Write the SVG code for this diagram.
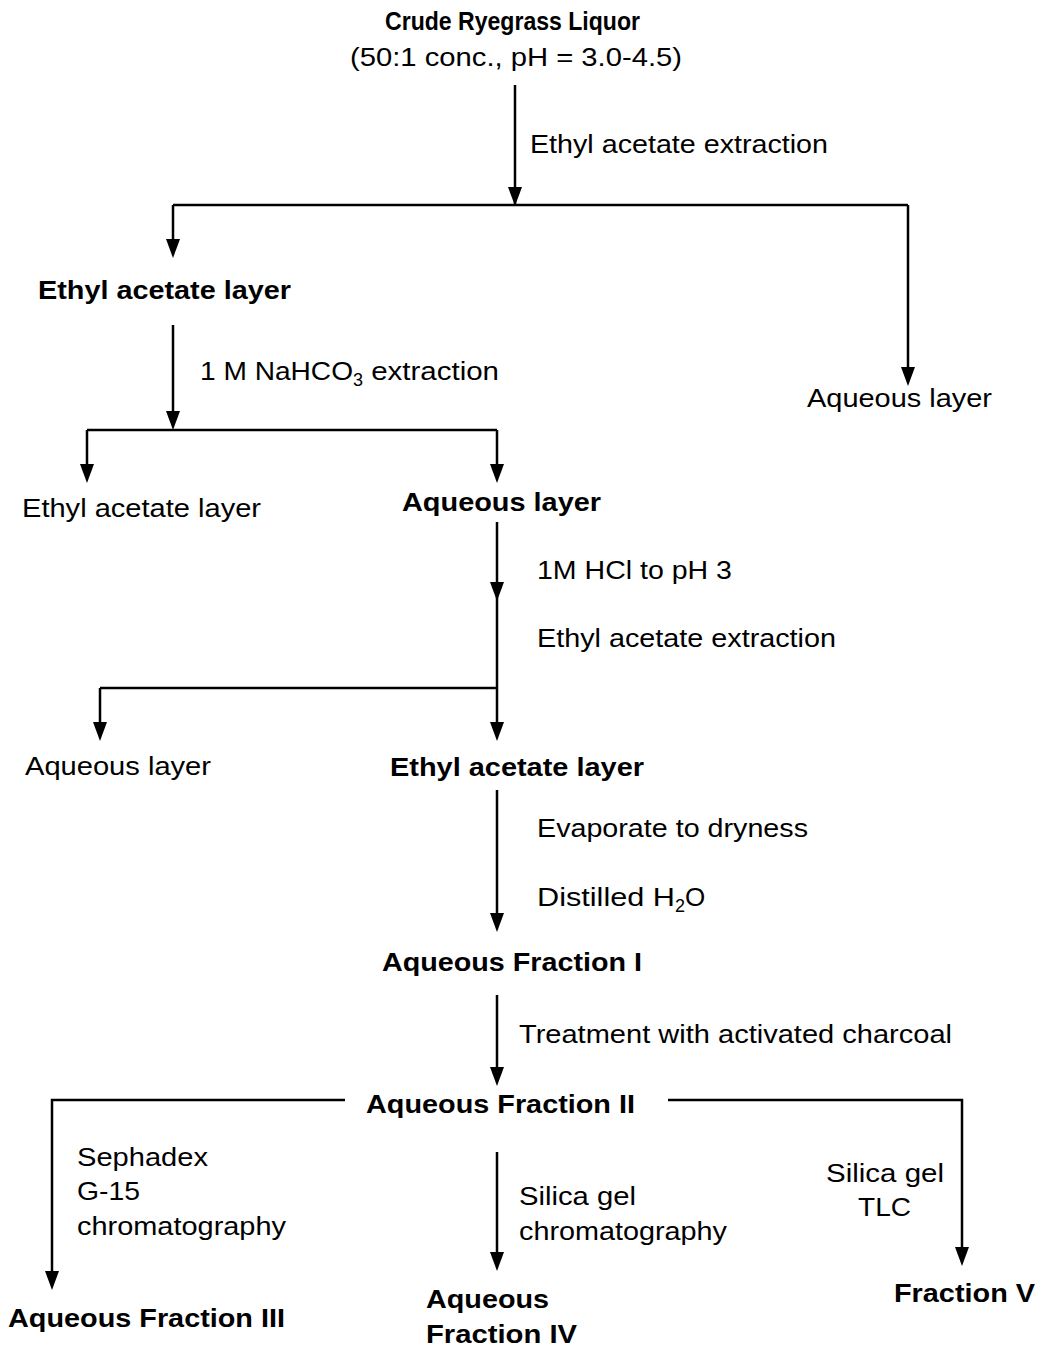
<svg xmlns="http://www.w3.org/2000/svg" width="1047" height="1349" viewBox="0 0 1047 1349">
<style>
text{font-family:"Liberation Sans",Arial,sans-serif;fill:#000;}
.b{font-weight:bold;font-size:25px;}
.r{font-size:26px;}
.sub{font-size:18px;}
.ln{stroke:#000;stroke-width:2.5;fill:none;}
</style>
<rect width="1047" height="1349" fill="#fff"/>
<g id="connectors">
<path class="ln" d="M515,85 V205"/>
<path d="M508,187 L522,187 L515,206 Z"/>
<path class="ln" d="M173,205 H908"/>
<path class="ln" d="M173,205 V240"/>
<path d="M166,239 L180,239 L173,258 Z"/>
<path class="ln" d="M908,205 V368"/>
<path d="M901,367 L915,367 L908,386 Z"/>
<path class="ln" d="M173,325 V412"/>
<path d="M166,411 L180,411 L173,430 Z"/>
<path class="ln" d="M87,430 H497"/>
<path class="ln" d="M87,430 V465"/>
<path d="M80,464 L94,464 L87,483 Z"/>
<path class="ln" d="M497,430 V465"/>
<path d="M490,464 L504,464 L497,483 Z"/>
<path class="ln" d="M497,522 V688"/>
<path d="M490,582 L504,582 L497,601 Z"/>
<path class="ln" d="M100,688 H497"/>
<path class="ln" d="M100,688 V723"/>
<path d="M93,722 L107,722 L100,741 Z"/>
<path class="ln" d="M497,688 V723"/>
<path d="M490,722 L504,722 L497,741 Z"/>
<path class="ln" d="M497,790 V914"/>
<path d="M490,913 L504,913 L497,932 Z"/>
<path class="ln" d="M497,995 V1068"/>
<path d="M490,1067 L504,1067 L497,1086 Z"/>
<path class="ln" d="M345,1100 H52 V1272"/>
<path d="M45,1271 L59,1271 L52,1290 Z"/>
<path class="ln" d="M668,1100 H962 V1248"/>
<path d="M955,1247 L969,1247 L962,1266 Z"/>
<path class="ln" d="M497,1152 V1253"/>
<path d="M490,1252 L504,1252 L497,1271 Z"/>
</g>
<g id="n-crude">
<text class="b" x="385" y="30" textLength="255" lengthAdjust="spacingAndGlyphs">Crude Ryegrass Liquor</text>
<text class="r" x="350" y="66" textLength="332" lengthAdjust="spacingAndGlyphs">(50:1 conc., pH = 3.0-4.5)</text>
</g>
<g id="l-eae1"><text class="r" x="530" y="153" textLength="298" lengthAdjust="spacingAndGlyphs">Ethyl acetate extraction</text></g>
<g id="n-eal1"><text class="b" x="38" y="299" textLength="253" lengthAdjust="spacingAndGlyphs">Ethyl acetate layer</text></g>
<g id="n-aq1"><text class="r" x="807" y="407" textLength="185" lengthAdjust="spacingAndGlyphs">Aqueous layer</text></g>
<g id="l-nahco3"><text class="r" x="200" y="380"><tspan textLength="153" lengthAdjust="spacingAndGlyphs">1 M NaHCO</tspan><tspan class="sub" dy="6">3</tspan><tspan dy="-6" textLength="136" lengthAdjust="spacingAndGlyphs"> extraction</tspan></text></g>
<g id="n-eal2"><text class="r" x="22" y="517" textLength="239" lengthAdjust="spacingAndGlyphs">Ethyl acetate layer</text></g>
<g id="n-aq2"><text class="b" x="402" y="511" textLength="199" lengthAdjust="spacingAndGlyphs">Aqueous layer</text></g>
<g id="l-hcl">
<text class="r" x="537" y="579" textLength="195" lengthAdjust="spacingAndGlyphs">1M HCl to pH 3</text>
<text class="r" x="537" y="647" textLength="299" lengthAdjust="spacingAndGlyphs">Ethyl acetate extraction</text>
</g>
<g id="n-aq3"><text class="r" x="25" y="775" textLength="186" lengthAdjust="spacingAndGlyphs">Aqueous layer</text></g>
<g id="n-eal3"><text class="b" x="390" y="776" textLength="254" lengthAdjust="spacingAndGlyphs">Ethyl acetate layer</text></g>
<g id="l-evap">
<text class="r" x="537" y="837" textLength="271" lengthAdjust="spacingAndGlyphs">Evaporate to dryness</text>
<text class="r" x="537" y="906"><tspan textLength="138" lengthAdjust="spacingAndGlyphs">Distilled H</tspan><tspan class="sub" dy="6">2</tspan><tspan dy="-6">O</tspan></text>
</g>
<g id="n-af1"><text class="b" x="382" y="971" textLength="260" lengthAdjust="spacingAndGlyphs">Aqueous Fraction I</text></g>
<g id="l-charcoal"><text class="r" x="519" y="1043" textLength="433" lengthAdjust="spacingAndGlyphs">Treatment with activated charcoal</text></g>
<g id="n-af2"><text class="b" x="366" y="1113" textLength="269" lengthAdjust="spacingAndGlyphs">Aqueous Fraction II</text></g>
<g id="l-sephadex">
<text class="r" x="77" y="1166" textLength="131" lengthAdjust="spacingAndGlyphs">Sephadex</text>
<text class="r" x="77" y="1200" textLength="63" lengthAdjust="spacingAndGlyphs">G-15</text>
<text class="r" x="77" y="1235" textLength="209" lengthAdjust="spacingAndGlyphs">chromatography</text>
</g>
<g id="l-silica">
<text class="r" x="519" y="1205" textLength="117" lengthAdjust="spacingAndGlyphs">Silica gel</text>
<text class="r" x="519" y="1240" textLength="208" lengthAdjust="spacingAndGlyphs">chromatography</text>
</g>
<g id="l-tlc">
<text class="r" x="826" y="1182" textLength="118" lengthAdjust="spacingAndGlyphs">Silica gel</text>
<text class="r" x="858" y="1216" textLength="53" lengthAdjust="spacingAndGlyphs">TLC</text>
</g>
<g id="n-af3"><text class="b" x="8" y="1327" textLength="277" lengthAdjust="spacingAndGlyphs">Aqueous Fraction III</text></g>
<g id="n-af4">
<text class="b" x="426" y="1308" textLength="123" lengthAdjust="spacingAndGlyphs">Aqueous</text>
<text class="b" x="426" y="1343" textLength="151" lengthAdjust="spacingAndGlyphs">Fraction IV</text>
</g>
<g id="n-f5"><text class="b" x="894" y="1302" textLength="141" lengthAdjust="spacingAndGlyphs">Fraction V</text></g>
</svg>
